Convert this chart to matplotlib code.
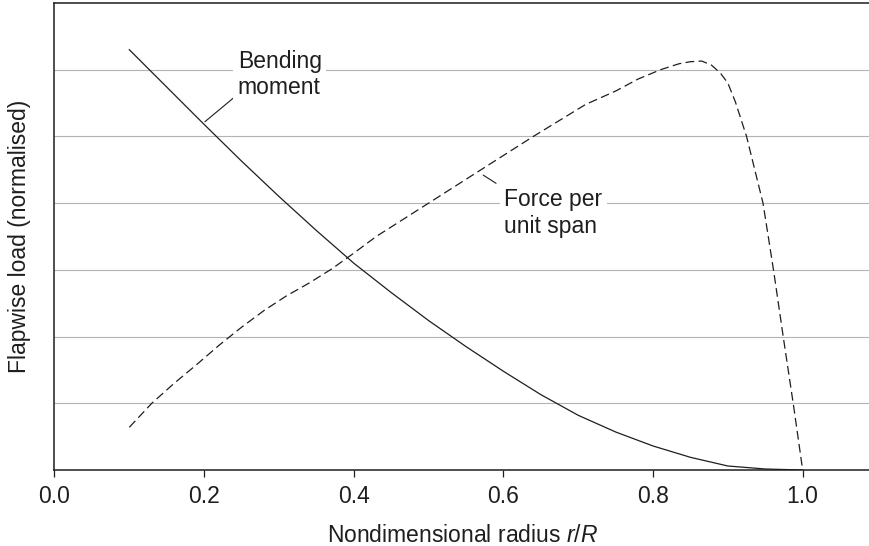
import matplotlib
matplotlib.use('Agg')
import matplotlib.pyplot as plt

plt.rcParams['font.family'] = ['Liberation Sans', 'DejaVu Sans']
plt.rcParams['mathtext.fontset'] = 'custom'
plt.rcParams['mathtext.rm'] = 'Liberation Sans'
plt.rcParams['mathtext.it'] = 'Liberation Sans:italic'

# data
bend_x = [0.10, 0.15, 0.20, 0.25, 0.30, 0.35, 0.40, 0.45, 0.50, 0.55, 0.60, 0.65,
          0.70, 0.75, 0.80, 0.85, 0.90, 0.95, 1.00]
bend_y = [6.30, 5.74, 5.18, 4.63, 4.10, 3.59, 3.10, 2.66, 2.24, 1.85, 1.48, 1.13,
          0.82, 0.57, 0.36, 0.19, 0.06, 0.015, 0.0]

force_x = [0.10, 0.13, 0.16, 0.19, 0.22, 0.25, 0.28, 0.31, 0.34, 0.37, 0.40, 0.43,
           0.50, 0.57, 0.64, 0.71, 0.75, 0.78, 0.81, 0.835, 0.85, 0.865, 0.878,
           0.89, 0.90, 0.91, 0.925, 0.947, 0.961, 0.974, 0.988, 1.00]
force_y = [0.64, 1.00, 1.30, 1.58, 1.87, 2.14, 2.39, 2.61, 2.80, 3.01, 3.25, 3.50,
           4.00, 4.50, 5.00, 5.48, 5.68, 5.86, 6.00, 6.09, 6.12, 6.13, 6.07,
           5.95, 5.80, 5.52, 5.00, 4.00, 3.00, 2.00, 0.95, 0.0]

xticks = [0.0, 0.2, 0.4, 0.6, 0.8, 1.0]
grid_y = [1, 2, 3, 4, 5, 6]

ink = '#1e1e1e'
fs = 16.5

fig = plt.figure(figsize=(8.7, 5.46), dpi=100)
ax = fig.add_axes([54.5 / 870, 1 - 470 / 546, 1 - 54.5 / 870, (470 - 3) / 546])

ax.plot(bend_x, bend_y, color=ink, lw=0.9, solid_joinstyle='round')
ax.plot(force_x, force_y, color=ink, lw=0.9, dashes=(7, 3.5))

ax.set_xlim(0, 1.09)
ax.set_ylim(0, 7)
ax.set_xticks(xticks)
ax.set_xticklabels(['%.1f' % t for t in xticks])
ax.set_yticks(grid_y)
ax.yaxis.grid(True, color='#b3b3b3', lw=0.8)
ax.set_axisbelow(True)
ax.tick_params(axis='y', length=0, labelleft=False)
ax.tick_params(axis='x', direction='out', length=5, width=0.9, color=ink,
               labelsize=fs, labelcolor=ink, pad=6)

ax.spines['right'].set_visible(False)
for s in ['left', 'bottom', 'top']:
    ax.spines[s].set_color(ink)
    ax.spines[s].set_linewidth(1.1)

ax.set_xlabel('Nondimensional radius $r/R$', fontsize=fs, color=ink)
ax.xaxis.set_label_coords(0.5, -0.116)
ax.set_ylabel('Flapwise load (normalised)', fontsize=fs, color=ink)
ax.yaxis.set_label_coords(-0.029, 0.5)

box = dict(boxstyle='square,pad=0.2', fc='white', ec='none')
ax.annotate('Bending\nmoment', xy=(0.201, 5.22), xytext=(0.245, 6.30),
            ha='left', va='top', fontsize=fs, color=ink, bbox=box,
            arrowprops=dict(arrowstyle='-', color=ink, lw=0.8,
                            shrinkA=0, shrinkB=0, relpos=(0, 0.1)))
ax.annotate('Force per\nunit span', xy=(0.573, 4.42), xytext=(0.601, 4.22),
            ha='left', va='top', fontsize=fs, color=ink, bbox=box,
            arrowprops=dict(arrowstyle='-', color=ink, lw=0.8,
                            shrinkA=3, shrinkB=0, relpos=(0, 1)))

fig.savefig('out.png', dpi=100)
